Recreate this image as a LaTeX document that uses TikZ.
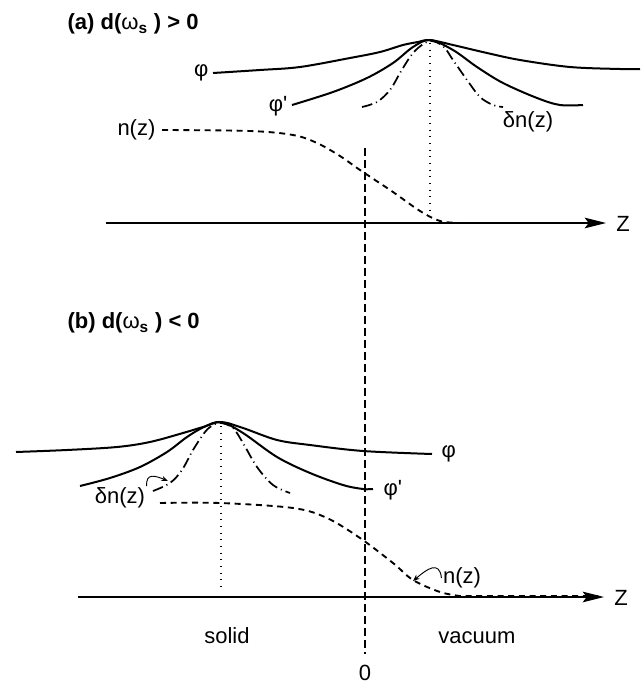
\documentclass[tikz,border=0pt]{standalone}
\usepackage{fontspec}
\setmainfont{Liberation Sans}
\usetikzlibrary{arrows.meta}

\begin{document}
\begin{tikzpicture}[x=0.75pt, y=-0.75pt,
  >={Stealth[length=16pt, width=8pt, inset=3pt]},
  every node/.style={font=\fontsize{16.5}{20}\selectfont, inner sep=1pt},
  pot/.style={line width=1.5pt, line join=round, smooth, tension=0.55},
  dens/.style={line width=1.4pt, dash pattern=on 4.5pt off 3.5pt},
  fluct/.style={line width=1.3pt, smooth, tension=0.55,
    dash pattern=on 8pt off 3pt on 0.8pt off 3pt},
  axis/.style={line width=1pt, ->},
  guide/.style={line width=0.8pt, dash pattern=on 0.8pt off 4.2pt},
  hook/.style={line width=0.7pt, -{Stealth[length=5pt, width=4pt]}}]
  \fill[white] (0,0) rectangle (641,685);
  \useasboundingbox (0,0) rectangle (641,685);

  % surface plane z = 0
  \coordinate (top0) at (365,148);
  \node (zero) at (365,673) {0};
  \draw[line width=0.9pt, dash pattern=on 6pt off 3pt, shorten >=7pt]
    (top0) -- (zero.north);

  % (a) d(omega_s) > 0
  \node[anchor=west] (titleA) at (66,24)
    {\bfseries (a) d({\mdseries ω}\textsubscript{s} ) > 0};
  \coordinate (oA) at (106,223);
  \coordinate (tipA) at (606,223);
  \node (zA) at (623,224) {Z};
  \draw[axis] (oA) -- (tipA);
  \draw[guide] (430,43) -- (430,220);
  \draw[pot] plot coordinates {(213,73) (260,70) (300,67) (350,58) (380,52)
    (403,45) (418,42) (430,40) (453,45) (487,53) (520,60) (570,67) (620,69)
    (640,69)};
  \draw[pot] plot coordinates {(292,105) (333,92) (367,78) (393,63) (413,47)
    (430,40) (453,50) (477,67) (503,83) (537,98) (560,105) (583,105)};
  \draw[fluct] plot coordinates {(362,107) (377,102) (390,90) (400,73)
    (410,57) (418,48) (430,41) (443,46) (453,60) (467,80) (480,97) (493,105)
    (503,107)};
  \draw[dens, smooth, tension=0.55] plot coordinates {(162,130) (250,131)
    (293,135) (317,143) (340,156) (360,170) (393,192) (420,211) (440,221)
    (460,223)} -- (598,223);
  \node[anchor=east] (phiA) at (210,73) {φ};
  \node[anchor=east] (phipA) at (289,106) {φ\textquotesingle};
  \node[anchor=east] (nA) at (157,130) {n(z)};
  \node (dnA) at (528,122) {δn(z)};

  % (b) d(omega_s) < 0
  \node[anchor=west] (titleB) at (66,323)
    {\bfseries (b) d({\mdseries ω}\textsubscript{s} ) < 0};
  \coordinate (oB) at (78,597);
  \coordinate (tipB) at (604,597);
  \node (zB) at (621,598) {Z};
  \draw[axis] (oB) -- (tipB);
  \draw[guide] (221,426) -- (221,590);
  \draw[pot] plot coordinates {(16,452) (67,450) (117,447) (150,442)
    (183,433) (203,427) (221,422) (243,428) (277,440) (310,445) (363,451)
    (432,454)};
  \draw[pot] plot coordinates {(80,486) (110,478) (140,467) (167,452)
    (187,437) (204,427) (221,422) (243,433) (277,457) (310,473) (343,485)
    (363,489) (373,489)};
  \draw[fluct] plot coordinates {(153,491) (170,483) (182,470) (193,450)
    (205,432) (213,425) (221,423) (233,428) (243,443) (257,467) (273,485)
    (290,493)};
  \draw[dens, smooth, tension=0.55] plot coordinates {(160,503) (220,503)
    (293,508) (327,518) (360,538) (393,563) (413,580) (440,592) (460,596)}
    -- (598,596);
  \node[anchor=west] (phiB) at (440,454) {φ};
  \node[anchor=west] (phipB) at (382,490) {φ\textquotesingle};
  \node (dnB) at (120,498) {δn(z)};
  \node (nB) at (462,578) {n(z)};
  \coordinate (dnTip) at (168,481);
  \coordinate (nTip) at (413,581);
  \draw[hook] (dnB.north east) .. controls +(-1,-14) and +(-12,-5) .. (dnTip);
  \draw[hook] (nB.west) .. controls +(-2,-18) and +(14,-12) .. (nTip);

  \node[anchor=base] (solid) at (227,643) {solid};
  \node[anchor=base] (vacuum) at (477,643) {vacuum};
\end{tikzpicture}
\end{document}
